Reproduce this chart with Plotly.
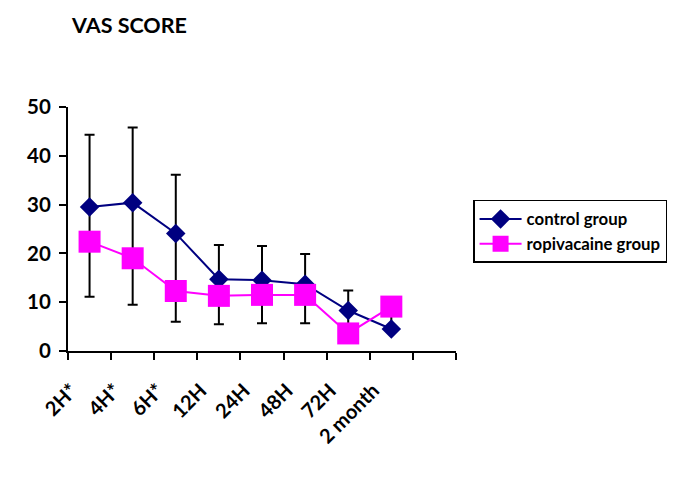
import plotly.graph_objects as go

categories = ["2H*", "4H*", "6H*", "12H", "24H", "48H", "72H", "2 month"]
control_mean = [29.5, 30.4, 24.1, 14.7, 14.5, 13.7, 8.3, 4.5]
control_upper = [44.3, 45.8, 36.1, 21.7, 21.5, 19.9, 12.4, 7.3]
ropi_mean = [22.4, 19.0, 12.3, 11.3, 11.5, 11.5, 3.6, 9.1]
ropi_lower = [11.1, 9.5, 6.0, 5.5, 5.7, 5.7, 3.6, 9.1]

xs = list(range(len(categories)))
ctrl_plus = [u - m for u, m in zip(control_upper, control_mean)]
ctrl_minus = [max(m - r, 0) for m, r in zip(control_mean, ropi_mean)]
ropi_minus = [m - l for m, l in zip(ropi_mean, ropi_lower)]

fig = go.Figure()
fig.add_trace(go.Scatter(
    x=xs, y=control_mean, name="<b>control group</b>", mode="lines+markers",
    line=dict(color="#000080", width=2),
    marker=dict(symbol="diamond", size=15, color="#000080"),
    error_y=dict(type="data", symmetric=False, array=ctrl_plus, arrayminus=ctrl_minus,
                 color="black", thickness=2, width=5),
))
fig.add_trace(go.Scatter(
    x=xs, y=ropi_mean, name="<b>ropivacaine group</b>", mode="lines+markers",
    line=dict(color="#FF00FF", width=2),
    marker=dict(symbol="square", size=22, color="#FF00FF"),
    error_y=dict(type="data", symmetric=False, array=[0]*len(xs), arrayminus=ropi_minus,
                 color="black", thickness=2, width=5),
))

font_family = "Lato, 'Open Sans', sans-serif"
boundaries = [i - 0.5 for i in range(len(categories) + 2)]
# page is rendered with an 8px body margin; margins compensate for it
fig.update_layout(
    width=685, height=477,
    margin=dict(l=60, r=237, t=99, b=134),
    paper_bgcolor="white", plot_bgcolor="white",
    font=dict(family=font_family, color="black"),
    title=dict(text="<b>VAS SCORE</b>", x=64/685, xanchor="left", xref="container",
               y=1-17/477, yanchor="middle", yref="container",
               font=dict(size=21.5, family=font_family, color="black")),
    showlegend=True,
    legend=dict(x=1.044, y=0.619, xanchor="left", yanchor="top",
                bordercolor="black", borderwidth=1.5, bgcolor="white",
                font=dict(size=16.8, family=font_family, color="black"),
                itemwidth=42, tracegroupgap=0),
    xaxis=dict(range=[-0.5, 8.5], tickvals=xs, ticktext=["<b>%s</b>" % c for c in categories],
               tickangle=-45, ticks="", showgrid=False, zeroline=False,
               showline=True, linecolor="black", linewidth=2,
               ticklabelstandoff=18, ticklabelshift=-18,
               tickfont=dict(size=20, family=font_family, color="black"),
               minor=dict(tickvals=boundaries, ticks="outside", ticklen=7,
                          tickwidth=2, tickcolor="black", showgrid=False)),
    yaxis=dict(range=[0, 50], tickvals=[0, 10, 20, 30, 40, 50],
               ticktext=["<b>%d</b>" % v for v in [0, 10, 20, 30, 40, 50]],
               ticks="outside", ticklen=7, tickwidth=2, tickcolor="black",
               ticklabelstandoff=4,
               showgrid=False, zeroline=False, showline=True, linecolor="black", linewidth=2,
               tickfont=dict(size=20.5, family=font_family, color="black")),
)
fig.write_html("out.html")
